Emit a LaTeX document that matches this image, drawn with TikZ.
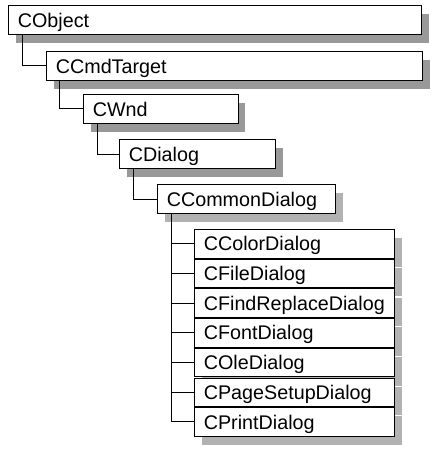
\documentclass[tikz,border=0pt]{standalone}
\usepackage{fontspec}
\setmainfont{Liberation Sans}
\usetikzlibrary{shadows}

\begin{document}
\begin{tikzpicture}[x=0.75pt, y=-0.75pt, line width=0.75pt, every node/.style={font=\fontsize{14.8}{17}\selectfont}, cls/.style={draw, fill=white, anchor=north west, inner xsep=7pt, inner ysep=0pt, text height=10.6pt, text depth=0pt, minimum height=21.75pt, text width=#1}, dark/.style={drop shadow={shadow xshift=5.25pt, shadow yshift=-6.5pt, fill=black!40, opacity=1}}, pale/.style={drop shadow={shadow xshift=5.25pt, shadow yshift=-6.5pt, fill=black!30, opacity=1}}]
	\useasboundingbox (0,0) rectangle (434,449);
	\node[cls=296pt, dark] (obj) at (8,5) {CObject};
	\node[cls=268pt, dark] (cmd) at (46,51) {CCmdTarget};
	\node[cls=102pt, dark] (wnd) at (83,94) {CWnd};
	\node[cls=103pt, dark] (dlg) at (119,139) {CDialog};
	\node[cls=119.5pt, pale] (cdl) at (157,184) {CCommonDialog};
	\foreach \i/\t in {1/CColorDialog, 2/CFileDialog, 3/CFindReplaceDialog, 4/CFontDialog, 5/COleDialog, 6/CPageSetupDialog, 7/CPrintDialog} {\node[cls=136pt, pale, minimum height=21.4pt] (r\i) at (194,{229+29.7*(\i-1)}) {\t};}
	\draw ([xshift=11pt]obj.south west) |- (cmd.west);
	\draw ([xshift=10pt]cmd.south west) |- (wnd.west);
	\draw ([xshift=10.5pt]wnd.south west) |- (dlg.west);
	\draw ([xshift=11pt]dlg.south west) |- (cdl.west);
	\foreach \i in {1,...,7} {\draw ([xshift=11pt]cdl.south west) |- (r\i.west);}
\end{tikzpicture}
\end{document}
